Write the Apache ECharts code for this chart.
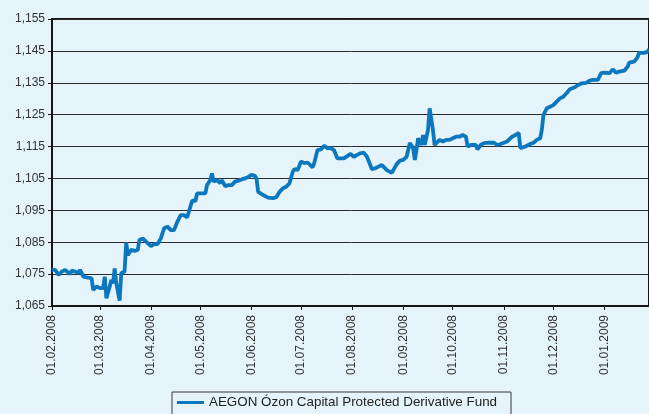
<!DOCTYPE html>
<html>
<head>
<meta charset="utf-8">
<script src="https://cdn.jsdelivr.net/npm/echarts@6/dist/echarts.min.js"></script>
<style>
html,body{margin:0;padding:0;background:#e5f3fa;}
#c{width:649px;height:414px;}
</style>
</head>
<body>
<div id="c"></div>
<script>
const seriesName = 'AEGON Ózon Capital Protected Derivative Fund';
const dates = [
'2008-02-01','2008-02-03','2008-02-05','2008-02-07','2008-02-09','2008-02-12','2008-02-13','2008-02-15','2008-02-17','2008-02-18',
'2008-02-19','2008-02-20','2008-02-22','2008-02-25','2008-02-26','2008-02-28','2008-03-01','2008-03-03','2008-03-04','2008-03-05',
'2008-03-07','2008-03-08','2008-03-09','2008-03-10','2008-03-11','2008-03-13','2008-03-14','2008-03-15','2008-03-16','2008-03-17',
'2008-03-18','2008-03-20','2008-03-22','2008-03-24','2008-03-25','2008-03-27','2008-03-29','2008-03-30','2008-04-01','2008-04-03',
'2008-04-05','2008-04-07','2008-04-09','2008-04-11','2008-04-13','2008-04-15','2008-04-17','2008-04-19','2008-04-21','2008-04-23',
'2008-04-24','2008-04-26','2008-04-28','2008-04-29','2008-05-02','2008-05-04','2008-05-05','2008-05-07','2008-05-08','2008-05-09',
'2008-05-11','2008-05-13','2008-05-14','2008-05-16','2008-05-18','2008-05-20','2008-05-22','2008-05-24','2008-05-26','2008-05-28',
'2008-05-30','2008-06-01','2008-06-03','2008-06-04','2008-06-05','2008-06-08','2008-06-11','2008-06-14','2008-06-16','2008-06-18',
'2008-06-20','2008-06-22','2008-06-24','2008-06-26','2008-06-27','2008-06-29','2008-07-01','2008-07-03','2008-07-05','2008-07-06',
'2008-07-08','2008-07-09','2008-07-11','2008-07-13','2008-07-15','2008-07-17','2008-07-19','2008-07-21','2008-07-23','2008-07-24',
'2008-07-27','2008-07-29','2008-07-31','2008-08-02','2008-08-04','2008-08-06','2008-08-08','2008-08-10','2008-08-11','2008-08-13',
'2008-08-15','2008-08-17','2008-08-19','2008-08-20','2008-08-22','2008-08-23','2008-08-25','2008-08-26','2008-08-28','2008-08-30',
'2008-09-01','2008-09-03','2008-09-04','2008-09-05','2008-09-07','2008-09-08','2008-09-09','2008-09-10','2008-09-12','2008-09-13',
'2008-09-14','2008-09-16','2008-09-17','2008-09-18','2008-09-19','2008-09-20','2008-09-21','2008-09-23','2008-09-25','2008-09-27',
'2008-09-29','2008-10-01','2008-10-03','2008-10-05','2008-10-07','2008-10-09','2008-10-10','2008-10-12','2008-10-15','2008-10-16',
'2008-10-18','2008-10-20','2008-10-23','2008-10-26','2008-10-28','2008-10-30','2008-11-01','2008-11-03','2008-11-06','2008-11-08',
'2008-11-10','2008-11-11','2008-11-14','2008-11-17','2008-11-19','2008-11-21','2008-11-23','2008-11-24','2008-11-25','2008-11-27',
'2008-11-29','2008-12-01','2008-12-03','2008-12-05','2008-12-07','2008-12-09','2008-12-11','2008-12-14','2008-12-16','2008-12-18',
'2008-12-21','2008-12-23','2008-12-25','2008-12-28','2008-12-30','2009-01-01','2009-01-04','2009-01-06','2009-01-08','2009-01-10',
'2009-01-13','2009-01-15','2009-01-16','2009-01-19','2009-01-21','2009-01-22','2009-01-25','2009-01-27','2009-01-28'
];
const values = [
1.0763,1.0763,1.0747,1.0758,1.0763,1.0750,1.0761,1.0758,1.0753,1.0763,
1.0753,1.0742,1.0740,1.0737,1.0700,1.0711,1.0706,1.0706,1.0742,1.0674,
1.0711,1.0732,1.0721,1.0768,1.0721,1.0667,1.0753,1.0758,1.0758,1.0849,
1.0810,1.0826,1.0823,1.0826,1.0857,1.0862,1.0852,1.0857,1.0838,1.0844,
1.0844,1.0862,1.0894,1.0899,1.0888,1.0888,1.0914,1.0935,1.0935,1.0928,
1.0946,1.0980,1.0980,1.1003,1.1003,1.1003,1.1029,1.1045,1.1066,1.1040,
1.1045,1.1035,1.1045,1.1026,1.1029,1.1029,1.1040,1.1043,1.1047,1.1050,
1.1055,1.1061,1.1058,1.1050,1.1008,1.0998,1.0990,1.0988,1.0991,1.1008,
1.1019,1.1024,1.1035,1.1071,1.1079,1.1077,1.1103,1.1098,1.1100,1.1098,
1.1085,1.1098,1.1139,1.1141,1.1152,1.1145,1.1145,1.1139,1.1113,1.1108,
1.1113,1.1120,1.1127,1.1118,1.1124,1.1129,1.1131,1.1118,1.1118,1.1079,
1.1082,1.1087,1.1092,1.1095,1.1076,1.1082,1.1068,1.1076,1.1095,1.1106,
1.1108,1.1118,1.1124,1.1161,1.1145,1.1108,1.1139,1.1176,1.1155,1.1186,
1.1155,1.1202,1.1270,1.1275,1.1202,1.1155,1.1161,1.1171,1.1166,1.1171,
1.1171,1.1176,1.1181,1.1181,1.1186,1.1181,1.1150,1.1155,1.1155,1.1141,
1.1155,1.1161,1.1162,1.1162,1.1155,1.1158,1.1162,1.1166,1.1181,1.1186,
1.1193,1.1145,1.1150,1.1158,1.1162,1.1171,1.1176,1.1202,1.1249,1.1270,
1.1275,1.1280,1.1291,1.1301,1.1306,1.1317,1.1330,1.1336,1.1343,1.1348,
1.1350,1.1357,1.1359,1.1359,1.1380,1.1382,1.1380,1.1392,1.1382,1.1385,
1.1388,1.1400,1.1413,1.1416,1.1430,1.1444,1.1444,1.1447,1.1455
];
const monthTicks = ['2008-02-01','2008-03-01','2008-04-01','2008-05-01','2008-06-01','2008-07-01',
  '2008-08-01','2008-09-01','2008-10-01','2008-11-01','2008-12-01','2009-01-01'];
const xStart = '2008-02-01';
const xEnd = '2009-01-28';
const yMin = 1.065, yMax = 1.155, yStep = 0.01;

function ts(s){ const p = s.split('-').map(Number); return Date.UTC(p[0], p[1]-1, p[2]); }
function pad(n){ return (n < 10 ? '0' : '') + n; }
function fmtDate(v){ const d = new Date(v); return pad(d.getUTCDate()) + '.' + pad(d.getUTCMonth()+1) + '.' + d.getUTCFullYear(); }

const tickTs = monthTicks.map(ts);
const data = dates.map((d, i) => [ts(d), values[i]]);
const font = 'Liberation Sans';

const chart = echarts.init(document.getElementById('c'));
chart.setOption({
  animation: false,
  backgroundColor: '#e5f3fa',
  grid: { left: 52, top: 19, right: -3, bottom: 108, show: true, borderColor: '#151515', borderWidth: 2, backgroundColor: 'transparent' },
  legend: {
    left: 172, top: 392,
    padding: [4, 14, 14, 5],
    borderColor: '#3a3a3a', borderWidth: 1, borderRadius: 0,
    icon: 'rect', itemWidth: 27, itemHeight: 3,
    textStyle: { fontFamily: font, fontSize: 13.4, color: '#222' },
    data: [seriesName]
  },
  xAxis: {
    type: 'value',
    min: ts(xStart), max: ts(xEnd),
    axisLine: { show: true, lineStyle: { color: '#151515', width: 2 } },
    axisTick: { show: true, customValues: tickTs, length: 4, lineStyle: { color: '#151515', width: 1 } },
    axisLabel: { customValues: tickTs, rotate: 90, margin: 9, fontFamily: font, fontSize: 12, color: '#333',
      formatter: v => fmtDate(v) },
    splitLine: { show: false }
  },
  yAxis: {
    type: 'value', min: yMin, max: yMax, interval: yStep,
    axisLine: { show: true, lineStyle: { color: '#151515', width: 2 } },
    axisTick: { show: true, length: 4, lineStyle: { color: '#151515', width: 1 } },
    axisLabel: { margin: 7, fontFamily: font, fontSize: 12, color: '#333',
      formatter: v => v.toFixed(3).replace('.', ',') },
    splitLine: { show: true, lineStyle: { color: '#2b2b2b', width: 1 } }
  },
  series: [{
    name: seriesName, type: 'line', data: data,
    showSymbol: false, symbol: 'none',
    lineStyle: { color: '#0a77bf', width: 3.8 },
    itemStyle: { color: '#0a77bf' }
  }]
});
</script>
</body>
</html>
